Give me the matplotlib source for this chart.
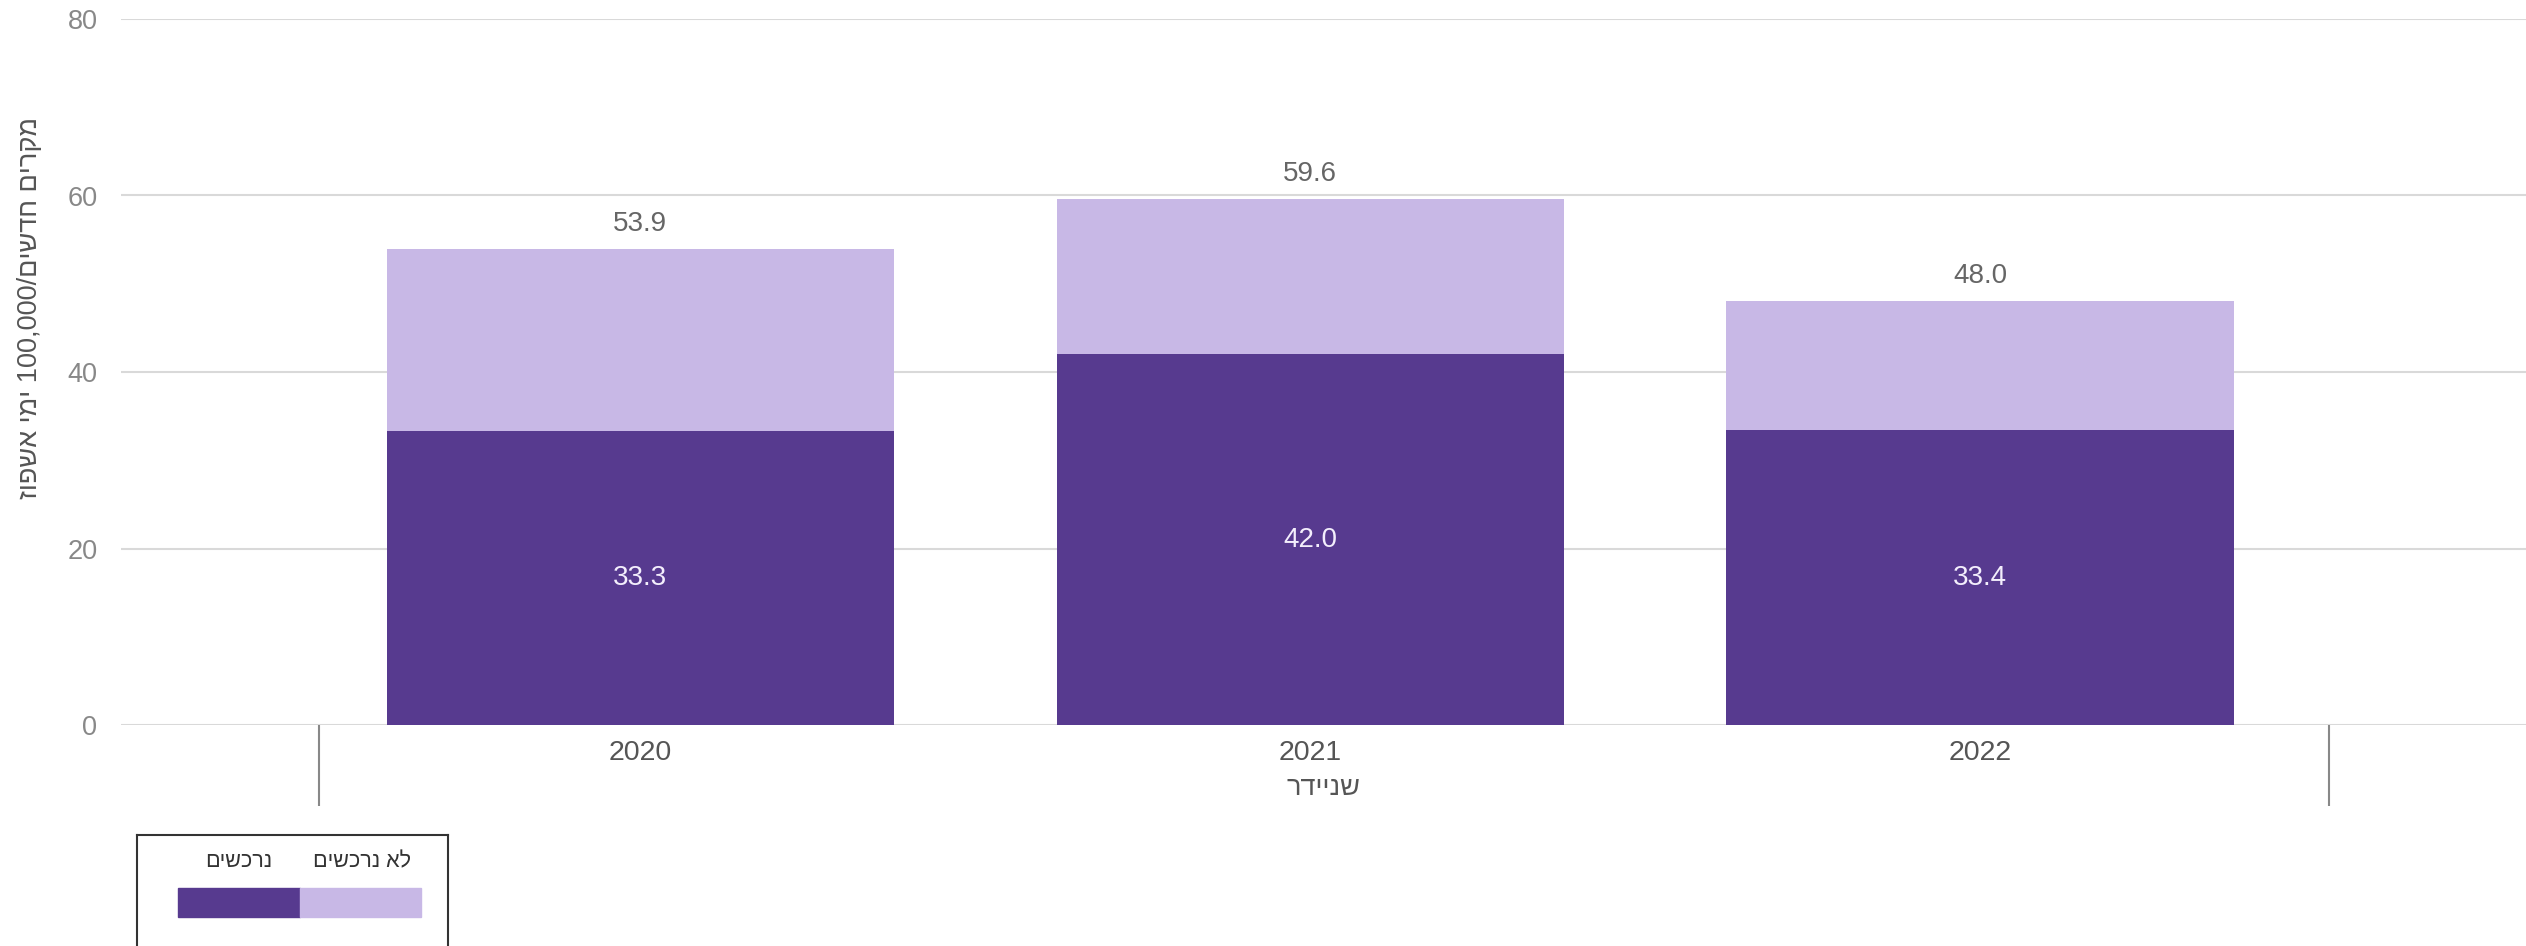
import re
import matplotlib
matplotlib.use('Agg')
import matplotlib.pyplot as plt
from matplotlib.patches import Rectangle

plt.rcParams['font.family'] = ['Liberation Sans', 'DejaVu Sans']

# data
years = ['2020', '2021', '2022']
purchased = [33.3, 42.0, 33.4]          # נרכשים
not_purchased = [20.6, 17.6, 14.6]      # לא נרכשים
totals = [53.9, 59.6, 48.0]
ylabel_txt = 'מקרים חדשים/100,000 ימי אשפוז'
xlabel_txt = 'שניידר'
legend_labels = ['נרכשים', 'לא נרכשים']

dark = '#573a8f'
light = '#c8b8e6'


def rtl(s):
    # matplotlib has no bidi: reverse, then put digit runs back in order
    r = s[::-1]
    return re.sub(r'[0-9][0-9,.]*', lambda m: m.group(0)[::-1], r)


fig = plt.figure(figsize=(25.26, 9.46), dpi=100)
ax = fig.add_axes([121 / 2526, 1 - 725 / 946, 1 - 121 / 2526, (725 - 19) / 946])

x = list(range(len(years)))
ax.bar(x, purchased, width=0.757, color=dark, zorder=2)
ax.bar(x, not_purchased, width=0.757, bottom=purchased, color=light, zorder=2)

for i in x:
    ax.text(i, purchased[i] / 2, f'{purchased[i]:.1f}', ha='center', va='center',
            color='#f3eefc', fontsize=20, zorder=3)
    ax.annotate(f'{totals[i]:.1f}', (i, totals[i]), xytext=(0, 18), textcoords='offset points',
                ha='center', va='center', color='#666666', fontsize=20)

ax.set_ylim(0, 80)
ax.set_xlim(-0.775, 2.815)
ax.set_yticks([0, 20, 40, 60, 80])
ax.yaxis.grid(True, color='#d9d9d9', linewidth=1.5, zorder=0)
for s in ax.spines.values():
    s.set_visible(False)
ax.tick_params(axis='y', length=0, pad=17, labelsize=19.5, labelcolor='#888888')
ax.tick_params(axis='x', length=0, pad=11, labelsize=20.5, labelcolor='#555555')
ax.set_xticks(x)
ax.set_xticklabels(years)
ax.set_xlabel(rtl(xlabel_txt), fontsize=19.5, color='#555555', labelpad=6)
ax.set_ylabel(rtl(ylabel_txt), fontsize=19.5, color='#555555')
ax.yaxis.set_label_coords(-0.0325, 0.59)

# category separators
trans = ax.get_xaxis_transform()
ax.vlines([-0.479, 2.521], 0, -(806 - 725) / 706, transform=trans, color='#888888',
          linewidth=1.5, clip_on=False)

# legend box
lax = fig.add_axes([137 / 2526, -0.02, (448 - 137) / 2526, (946 - 835) / 946 + 0.02])
lax.set_xlim(137, 448)
lax.set_ylim(946 + 19, 835)
lax.set_xticks([])
lax.set_yticks([])
for s in lax.spines.values():
    s.set_color('#333333')
    s.set_linewidth(1.5)
lax.add_patch(Rectangle((178, 888), 122, 29, color=dark))
lax.add_patch(Rectangle((300, 888), 121, 29, color=light))
lax.text(239, 862, rtl(legend_labels[0]), ha='center', va='center', fontsize=15.5, color='#333333')
lax.text(362, 862, rtl(legend_labels[1]), ha='center', va='center', fontsize=15.5, color='#333333')

fig.savefig('out.png', dpi=100)
